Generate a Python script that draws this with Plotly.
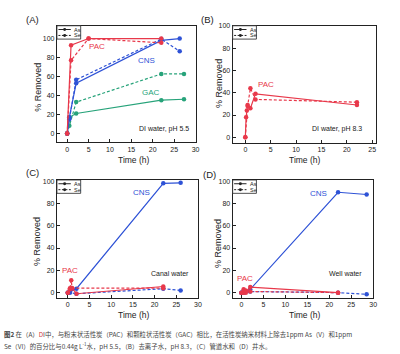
import plotly.graph_objects as go

W, H = 400, 354

# ---------------- data ----------------
# Panel A: DI water, pH 5.5
A_PAC_As_t = [0, 0.9, 5, 22]
A_PAC_As_y = [0, 93, 100, 100]
A_PAC_Se_t = [0, 0.9, 5, 22]
A_PAC_Se_y = [0, 77, 100, 95.5]
A_CNS_As_t = [0, 0.5, 2.1, 22, 26.3]
A_CNS_As_y = [0, 17, 53, 98, 100]
A_CNS_Se_t = [0, 0.5, 2.1, 22, 26.3]
A_CNS_Se_y = [0, 15, 56.5, 99.5, 86.5]
A_GAC_As_t = [0, 0.5, 2.1, 22, 27.3]
A_GAC_As_y = [0, 17, 21, 35, 36]
A_GAC_Se_t = [0, 0.5, 2.1, 22, 27.3]
A_GAC_Se_y = [0, 8, 33, 62.7, 62.7]

# Panel B: DI water, pH 8.3
B_PAC_As_t = [0, 0.15, 0.45, 1, 2, 22]
B_PAC_As_y = [0, 18, 29, 26, 39, 29]
B_PAC_Se_t = [0, 0.3, 0.45, 1, 2, 22]
B_PAC_Se_y = [0, 24, 28, 44, 34, 31.5]

# Panel C: canal water
C_CNS_As_t = [0, 0.5, 2, 22, 26]
C_CNS_As_y = [0, 1, 3.5, 98, 98.5]
C_CNS_Se_t = [0, 0.5, 2, 22, 26]
C_CNS_Se_y = [0, 0, -1, 3.5, 2]
C_PAC_As_t = [0, 0.5, 1, 2, 22]
C_PAC_As_y = [0, 3, 4, -1, 5.5]
C_PAC_Se_t = [0, 0.5, 0.8, 1, 22]
C_PAC_Se_y = [0, 4, 11, 4, 4]

# Panel D: well water
D_CNS_As_t = [0, 0.5, 2, 22, 28.5]
D_CNS_As_y = [0, 1, 3, 90, 88]
D_CNS_Se_t = [0, 0.5, 2, 22, 28.5]
D_CNS_Se_y = [0, 0, 1, 0, -1.5]
D_PAC_As_t = [0, 0.5, 1, 2, 22]
D_PAC_As_y = [0, 3, 0, 5, 0]
D_PAC_Se_t = [0, 0.5, 1, 2, 22]
D_PAC_Se_y = [0, 0, 2, 1, 0]

x_ticks_A = [0, 5, 10, 15, 20, 25, 30]
x_ticks_B = [0, 5, 10, 15, 20, 25]
y_ticks = [0, 20, 40, 60, 80, 100]

RED = "#E8384A"
BLUE = "#2E52D6"
GREEN = "#27A37A"
FONT = "Liberation Sans, Arial, sans-serif"

# panels in pixels: left, top, right, bottom ; ranges
PANELS = {
    "A": dict(box=(57.5, 22, 197.5, 140), xr=[-2.4, 30], yr=[-9.5, 113.5], xt=x_ticks_A),
    "B": dict(box=(235, 22, 380, 140.5), xr=[-2.5, 25.8], yr=[-5, 100], xt=x_ticks_B),
    "C": dict(box=(57.5, 178, 200, 297), xr=[-2.5, 30], yr=[-4.5, 101], xt=x_ticks_A),
    "D": dict(box=(235, 178, 377, 297), xr=[-2, 30], yr=[-4.5, 101], xt=x_ticks_A),
}
AX = {"A": ("x", "y", ""), "B": ("x2", "y2", "2"), "C": ("x3", "y3", "3"), "D": ("x4", "y4", "4")}


def px(x):
    return x / W


def py(y):
    return 1 - y / H


fig = go.Figure()


def add(panel, t, y, color, dashed):
    xa, ya, _ = AX[panel]
    fig.add_trace(go.Scatter(
        x=t, y=y, xaxis=xa, yaxis=ya, mode="lines+markers",
        line=dict(color=color, width=1.2, dash="3px,2px" if dashed else "solid"),
        marker=dict(color=color, size=4.5, symbol="circle"),
        showlegend=False, hoverinfo="x+y"))


add("A", A_GAC_As_t, A_GAC_As_y, GREEN, False)
add("A", A_GAC_Se_t, A_GAC_Se_y, GREEN, True)
add("A", A_CNS_As_t, A_CNS_As_y, BLUE, False)
add("A", A_CNS_Se_t, A_CNS_Se_y, BLUE, True)
add("A", A_PAC_As_t, A_PAC_As_y, RED, False)
add("A", A_PAC_Se_t, A_PAC_Se_y, RED, True)

add("B", B_PAC_As_t, B_PAC_As_y, RED, False)
add("B", B_PAC_Se_t, B_PAC_Se_y, RED, True)

add("C", C_CNS_As_t, C_CNS_As_y, BLUE, False)
add("C", C_CNS_Se_t, C_CNS_Se_y, BLUE, True)
add("C", C_PAC_As_t, C_PAC_As_y, RED, False)
add("C", C_PAC_Se_t, C_PAC_Se_y, RED, True)

add("D", D_CNS_As_t, D_CNS_As_y, BLUE, False)
add("D", D_CNS_Se_t, D_CNS_Se_y, BLUE, True)
add("D", D_PAC_As_t, D_PAC_As_y, RED, False)
add("D", D_PAC_Se_t, D_PAC_Se_y, RED, True)

layout = dict(
    width=W, height=H, margin=dict(l=0, r=0, t=0, b=0),
    paper_bgcolor="white", plot_bgcolor="white",
    font=dict(family=FONT, color="#222"),
    showlegend=False,
)

for p, cfg in PANELS.items():
    l, t, r, b = cfg["box"]
    xa, ya, s = AX[p]
    common = dict(showline=True, mirror=True, linecolor="#222", linewidth=1,
                  ticks="inside", ticklen=3, tickwidth=0.8, tickcolor="#222",
                  showgrid=False, zeroline=False,
                  tickfont=dict(size=7, family=FONT, color="#222"))
    layout["xaxis" + s] = dict(domain=[px(l), px(r)], anchor=ya, range=cfg["xr"],
                               tickvals=cfg["xt"], **common)
    layout["yaxis" + s] = dict(domain=[py(b), py(t)], anchor=xa, range=cfg["yr"],
                               tickvals=y_ticks, **common)

fig.update_layout(**layout)

ann = []
shapes = []


def text(x, y, s, size, color="#222", xanchor="center", angle=0, family=FONT):
    ann.append(dict(x=px(x), y=py(y), xref="paper", yref="paper", text=s, showarrow=False,
                    xanchor=xanchor, yanchor="middle", textangle=angle,
                    font=dict(size=size, color=color, family=family)))


# panel labels
text(33, 16, "(A)", 9.5)
text(210, 16, "(B)", 9.5)
text(33, 170, "(C)", 9.5)
text(212, 172, "(D)", 9.5)

# axis titles
for x, y in [(38, 84), (221, 80), (38, 240), (220, 242)]:
    text(x, y, "% Removed", 9, angle=-90)
for x, y in [(135, 158), (308, 158), (135, 315), (308, 315)]:
    text(x, y, "Time (h)", 8.5)

# condition labels
text(193, 126, "DI water, pH 5.5", 7, xanchor="right")
text(368, 126, "DI water, pH 8.3", 7, xanchor="right")
text(193, 273, "Canal water", 7, xanchor="right")
text(368, 273, "Well water", 7, xanchor="right")


# series labels in data coordinates
def dtext(panel, x, y, s, color):
    xa, ya, _ = AX[panel]
    ann.append(dict(x=x, y=y, xref=xa, yref=ya, text=s, showarrow=False,
                    font=dict(size=8, color=color, family=FONT)))


dtext("A", 7, 92, "PAC", RED)
dtext("A", 18.5, 77, "CNS", BLUE)
dtext("A", 19.5, 43, "GAC", GREEN)
dtext("B", 4, 47, "PAC", RED)
dtext("C", 17, 90, "CNS", BLUE)
dtext("C", 0.5, 20, "PAC", RED)
dtext("D", 17.5, 89, "CNS", BLUE)
dtext("D", 0.8, 13, "PAC", RED)

# small legends (As solid, Se dashed) drawn at each panel's top-left corner
for p, cfg in PANELS.items():
    l, t, r, b = cfg["box"]
    w_, h_ = 24, 13.5
    shapes.append(dict(type="rect", xref="paper", yref="paper",
                       x0=px(l), x1=px(l + w_), y0=py(t + h_), y1=py(t),
                       line=dict(color="#222", width=0.8), fillcolor="white"))
    for i, (lab, dash) in enumerate([("As", "solid"), ("Se", "2px,1.5px")]):
        yy = t + 3.8 + i * 6
        shapes.append(dict(type="line", xref="paper", yref="paper",
                           x0=px(l + 1.5), x1=px(l + 14), y0=py(yy), y1=py(yy),
                           line=dict(color="#222", width=1, dash=dash)))
        shapes.append(dict(type="circle", xref="paper", yref="paper",
                           x0=px(l + 6.3), x1=px(l + 9.3), y0=py(yy + 1.5), y1=py(yy - 1.5),
                           line=dict(color="#222", width=0), fillcolor="#222"))
        text(l + 15, yy, lab, 5.5, xanchor="left")

# caption
CAP = "Noto Sans CJK SC"
ann.append(dict(x=px(2), y=py(334), xref="paper", yref="paper", xanchor="left", yanchor="middle",
                showarrow=False, align="left",
                text="<b>图2</b> 在（A）<span style='color:#d04040'>D</span>I中，与粉末状活性炭（PAC）和颗粒状活性炭（GAC）相比，在活性炭纳米材料上除去1ppm As（V）和1ppm",
                font=dict(size=6.4, color="#444", family=CAP)))
ann.append(dict(x=px(2), y=py(346), xref="paper", yref="paper", xanchor="left", yanchor="middle",
                showarrow=False, align="left",
                text="Se（VI）的百分比与0.44g L<sup>-1</sup>水，pH 5.5，（B）去离子水，pH 8.3，（C）管道水和（D）井水。",
                font=dict(size=6.4, color="#444", family=CAP)))

fig.update_layout(annotations=ann, shapes=shapes)
fig.write_html("out.html")
